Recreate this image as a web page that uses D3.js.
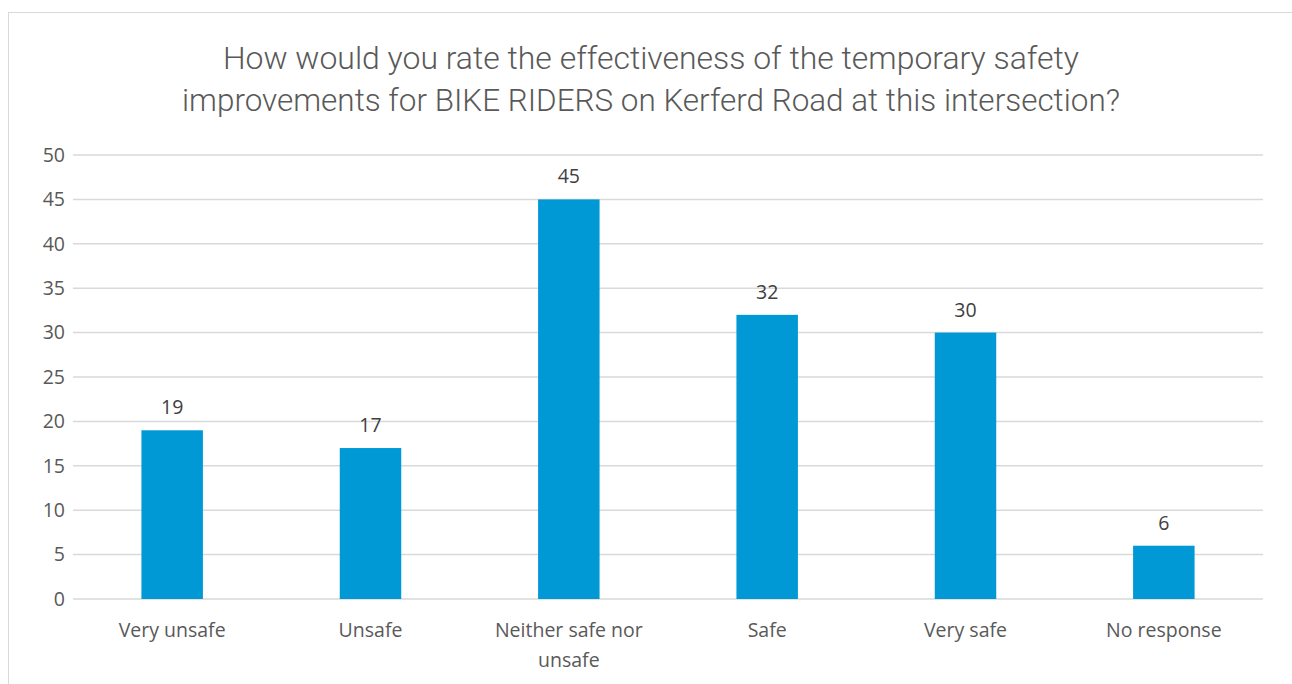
<!DOCTYPE html>
<html>
<head>
<meta charset="utf-8">
<script src="https://cdn.jsdelivr.net/npm/d3@7"></script>
<style>
  body { margin: 0; background: #fff; }
  svg { display: block; }
</style>
</head>
<body>
<div id="chart"></div>
<script>
// -------- data ----------
var categories = [
  "Very unsafe",
  "Unsafe",
  "Neither safe nor unsafe",
  "Safe",
  "Very safe",
  "No response",
];
var values = [19, 17, 45, 32, 30, 6];
var yTicks = [0, 5, 10, 15, 20, 25, 30, 35, 40, 45, 50];
var titleLines = [
  "How would you rate the effectiveness of the temporary safety",
  "improvements for BIKE RIDERS on Kerferd Road at this intersection?",
];

var W = 1292, H = 684;
var margin = { left: 73, right: 29, top: 155, bottom: 85 };

var svg = d3
  .select("#chart")
  .append("svg")
  .attr("width", W)
  .attr("height", H);

// chart frame
svg
  .append("rect")
  .attr("x", 8.5)
  .attr("y", 12.5)
  .attr("width", W + 20)
  .attr("height", H + 20)
  .attr("fill", "#fff")
  .attr("stroke", "#d9d9d9")
  .attr("stroke-width", 1);

// title
svg
  .append("g")
  .selectAll("text")
  .data(titleLines)
  .join("text")
  .attr("x", 651)
  .attr("y", (d, i) => 69 + i * 42)
  .attr("text-anchor", "middle")
  .attr("font-family", "Roboto")
  .attr("font-weight", 300)
  .attr("font-size", 32)
  .attr("fill", "#595959")
  .attr("textLength", (d, i) => (i === 0 ? 856 : 938))
  .attr("lengthAdjust", "spacingAndGlyphs")
  .text((d) => d);

var x = d3
  .scaleBand()
  .domain(categories)
  .range([margin.left, W - margin.right])
  .paddingInner(0.69)
  .paddingOuter(0.345);

var y = d3
  .scaleLinear()
  .domain([0, 50])
  .range([H - margin.bottom, margin.top]);

// gridlines
svg
  .append("g")
  .selectAll("line")
  .data(yTicks)
  .join("line")
  .attr("x1", margin.left)
  .attr("x2", W - margin.right)
  .attr("y1", (d) => y(d))
  .attr("y2", (d) => y(d))
  .attr("stroke", "#d9d9d9")
  .attr("stroke-width", 1.5);

// y axis labels
var yAxis = svg
  .append("g")
  .attr("transform", "translate(" + 65 + ",0)")
  .call(d3.axisLeft(y).tickValues(yTicks).tickSize(0).tickPadding(0));
yAxis.select(".domain").remove();
yAxis
  .selectAll("text")
  .attr("font-family", "Open Sans")
  .attr("font-size", 19.5)
  .attr("fill", "#595959");

// bars
svg
  .append("g")
  .selectAll("rect")
  .data(values)
  .join("rect")
  .attr("x", (d, i) => x(categories[i]))
  .attr("y", (d) => y(d))
  .attr("width", x.bandwidth())
  .attr("height", (d) => y(0) - y(d))
  .attr("fill", "#0099d6");

// data labels
svg
  .append("g")
  .selectAll("text")
  .data(values)
  .join("text")
  .attr("x", (d, i) => x(categories[i]) + x.bandwidth() / 2)
  .attr("y", (d) => y(d) - 16)
  .attr("text-anchor", "middle")
  .attr("font-family", "Open Sans")
  .attr("font-size", 19.5)
  .attr("fill", "#404040")
  .text((d) => d);

// x axis labels (wrapped)
var xAxis = svg
  .append("g")
  .attr("transform", "translate(0," + y(0) + ")")
  .call(d3.axisBottom(x).tickSize(0).tickPadding(0));
xAxis.select(".domain").remove();
xAxis.selectAll("text").each(function(d) {
  var t = d3.select(this);
  var lines = d === "Neither safe nor unsafe" ? ["Neither safe nor", "unsafe"] : [d];
  t.text(null)
    .attr("y", 0)
    .attr("dy", null)
    .attr("font-family", "Open Sans")
    .attr("font-size", 19.5)
    .attr("fill", "#595959");
  lines.forEach(function(l, i) {
    t.append("tspan")
      .attr("x", 0)
      .attr("y", 38 + i * 30)
      .text(l);
  });
});
</script>
</body>
</html>
